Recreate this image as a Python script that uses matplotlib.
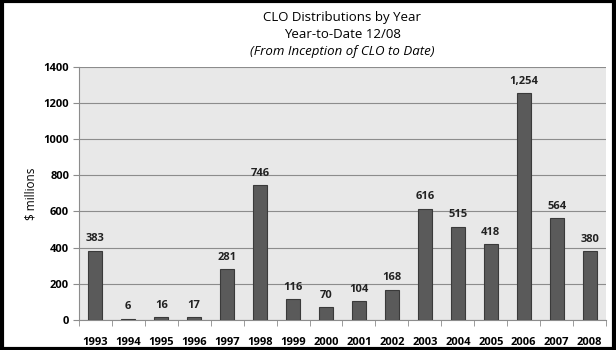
import matplotlib.pyplot as plt
import numpy as np

# CLO distributions by year
years = ['1993', '1994', '1995', '1996', '1997', '1998', '1999', '2000',
         '2001', '2002', '2003', '2004', '2005', '2006', '2007', '2008']
values = [383, 6, 16, 17, 281, 746, 116, 70, 104, 168, 616, 515, 418, 1254, 564, 380]
labels = ['383', '6', '16', '17', '281', '746', '116', '70', '104', '168',
          '616', '515', '418', '1,254', '564', '380']

plt.rcParams['font.family'] = ['Open Sans', 'DejaVu Sans']

fig = plt.figure(figsize=(6.16, 3.5), dpi=100)
ax = fig.add_axes([0.128, 0.086, 0.856, 0.723])

x = np.arange(len(years))
ax.set_facecolor('#e8e8e8')
ax.bar(x, values, width=0.43, color='#5a5a5a', edgecolor='#3a3a3a', linewidth=0.8, zorder=3)

for xi, v, lab in zip(x, values, labels):
    ax.text(xi, v + 35, lab, ha='center', va='bottom', fontsize=8, fontweight='bold', color='#222222')

ax.set_xlim(-0.5, len(years) - 0.5)
ax.set_ylim(0, 1400)
ax.set_yticks(range(0, 1401, 200))
ax.set_yticklabels([str(t) for t in range(0, 1401, 200)], fontsize=8, fontweight='bold')
ax.yaxis.grid(True, color='#8c8c8c', linewidth=0.8, zorder=0)

ax.set_xticks(x)
ax.set_xticklabels(years, fontsize=8, fontweight='bold')
ax.tick_params(axis='x', length=0, pad=12)
ax.set_xticks(np.arange(-0.5, len(years)), minor=True)
ax.tick_params(axis='x', which='minor', length=4, color='#8c8c8c')
ax.tick_params(axis='y', length=4, color='#8c8c8c', pad=3)

for s in ['top', 'right']:
    ax.spines[s].set_visible(False)
ax.spines['left'].set_color('#8c8c8c')
ax.spines['bottom'].set_color('#8c8c8c')

ax.set_ylabel('$ millions', fontsize=8.5)

cx = 0.128 + 0.856 / 2
fig.text(cx, 0.95, 'CLO Distributions by Year', ha='center', va='center', fontsize=9.5)
fig.text(cx, 0.902, 'Year-to-Date 12/08', ha='center', va='center', fontsize=9.5)
fig.text(cx, 0.854, '(From Inception of CLO to Date)', ha='center', va='center', fontsize=9.5,
         style='italic')

# black frame around the whole picture
fig.patches.append(plt.Rectangle((0.003, 0.004), 0.994, 0.992, transform=fig.transFigure,
                                 fill=False, edgecolor='black', linewidth=3))

fig.savefig('out.png', dpi=100)
